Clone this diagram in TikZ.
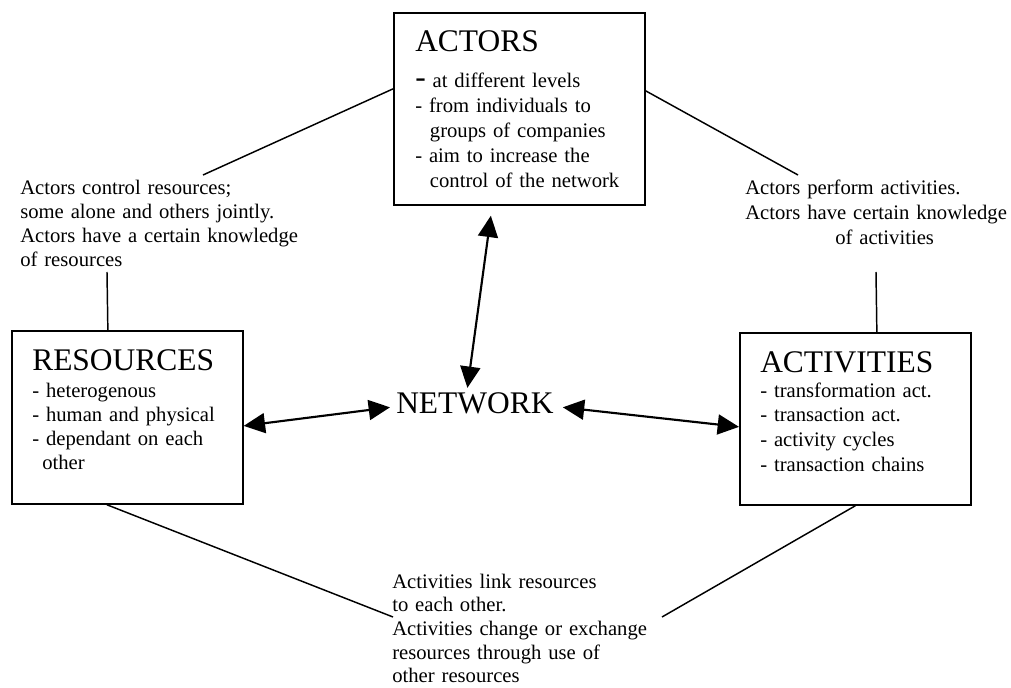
\documentclass[tikz,border=0pt]{standalone}
\usepackage{fontspec}
\setmainfont{Liberation Serif}
\usetikzlibrary{arrows.meta}
\newcommand{\headsize}{\fontsize{23.6pt}{28pt}\selectfont}
\newcommand{\bodysize}[1]{\fontsize{15.5pt}{#1}\selectfont}
\begin{document}
\begin{tikzpicture}[x=0.75pt, y=-0.75pt, >={Triangle[length=16pt,width=15pt]},
    box node/.style={draw, line width=1.3pt, inner sep=0pt, anchor=north west},
    head node/.style={font=\headsize, inner sep=0pt, anchor=base west},
    text node/.style={font=\bodysize{#1}, inner sep=0pt, anchor=base west, align=left, text width=240pt},
    text node/.default=18pt,
    link/.style={line width=1.1pt},
    both/.style={<->, line width=1.6pt}]

    \useasboundingbox (0,0) rectangle (1011,688);

    % the three boxes
    \node[box node, minimum width=188.25pt, minimum height=144pt] (actors) at (393,12) {};
    \node[box node, minimum width=173.25pt, minimum height=129.75pt] (resources) at (11,330) {};
    \node[box node, minimum width=173.25pt, minimum height=129pt] (activities) at (739,332) {};

    \node[head node] (actorshead) at (415,52) {ACTORS};
    \node[text node=18.75pt] (actorstext) at (415,88) {{\headsize -} at different levels\\- from individuals to\\\hspace*{11pt}groups of companies\\- aim to increase the\\\hspace*{11pt}control of the network};

    \node[head node] (resourceshead) at (32,370) {RESOURCES};
    \node[text node=18.2pt] (resourcestext) at (32,397) {- heterogenous\\- human and physical\\- dependant on each\\\hspace*{7.5pt}other};

    \node[head node] (activitieshead) at (760,372) {ACTIVITIES};
    \node[text node=18.5pt] (activitiestext) at (760,397) {- transformation act.\\- transaction act.\\- activity cycles\\- transaction chains};

    \node[head node] (network) at (396,413) {NETWORK};

    % texts on the links
    \node[text node] (controltext) at (20,195) {Actors control resources;\\some alone and others jointly.\\Actors have a certain knowledge\\of resources};
    \node[text node=18.4pt] (performtext) at (745,195) {Actors perform activities.\\Actors have certain knowledge\\\hspace*{67.5pt}of activities};
    \node[text node=17.8pt] (linktext) at (392,588) {Activities link resources\\to each other.\\Activities change or exchange\\resources through use of\\other resources};

    \coordinate (controlend) at (203,175);
    \coordinate (controlfoot) at (107,272);
    \coordinate (performend) at (798,175);
    \coordinate (performfoot) at (876,272);
    \coordinate (linkleft) at (393,617);
    \coordinate (linkright) at (662,617);

    \draw[link] ([shift={(0,-20)}]actors.west) -- (controlend);
    \draw[link] ([shift={(0,-18)}]actors.east) -- (performend);
    \draw[link] (controlfoot) -- ([shift={(-19.5,0)}]resources.north);
    \draw[link] (performfoot) -- ([shift={(21.5,0)}]activities.north);
    \draw[link] ([shift={(-20.5,0)}]resources.south) -- (linkleft);
    \draw[link] (activities.south) -- (linkright);

    \path[both] ([shift={(-28.5,10)}]actors.south) edge ([shift={(-7.5,-4)}]network.north);
    \path[both] ([shift={(0,8.5)}]resources.east) edge ([shift={(-6,4.5)}]network.west);
    \path[both] ([shift={(9,4.5)}]network.east) edge ([shift={(0,8)}]activities.west);
\end{tikzpicture}
\end{document}
